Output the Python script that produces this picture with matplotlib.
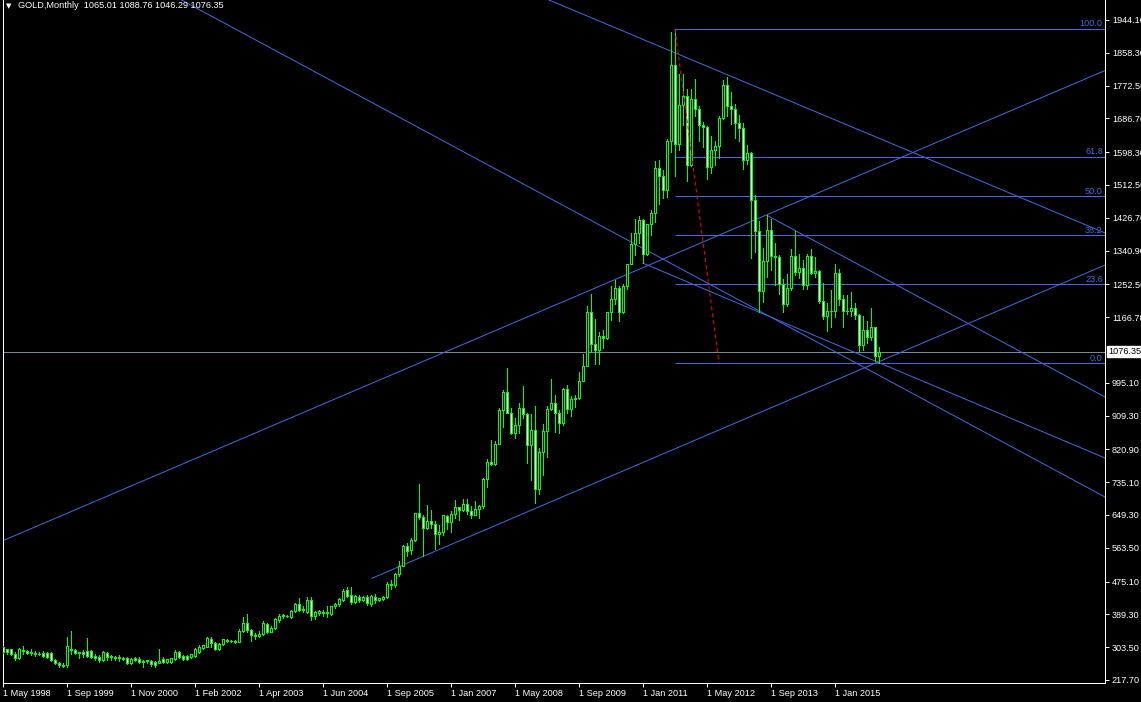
import matplotlib
matplotlib.use("Agg")
import matplotlib.pyplot as plt
from matplotlib.transforms import blended_transform_factory

# monthly GOLD candles, bar 0 = May 1998, last bar = Dec 2015
opens = [304, 298, 298, 287, 276, 293, 293, 291, 288, 287, 289, 289, 289, 270, 263, 258,
         256, 300, 296, 290, 291, 294, 293, 280, 277, 271, 289, 280, 279, 278, 276, 274,
         261, 274, 272, 266, 267, 268, 265, 263, 272, 266, 264, 273, 291, 281, 280, 277,
         280, 291, 301, 305, 326, 314, 298, 312, 322, 320, 319, 318, 347, 368, 348, 335,
         334, 338, 364, 344, 355, 375, 384, 386, 382, 397, 416, 401, 396, 427, 386, 394,
         396, 394, 390, 410, 416, 427, 453, 440, 423, 436, 427, 434, 416, 436, 428, 430,
         434, 470, 466, 495, 517, 569, 557, 584, 654, 643, 614, 633, 627, 599, 604, 647,
         632, 651, 669, 663, 679, 659, 650, 665, 672, 743, 789, 783, 834, 923, 971, 917,
         865, 886, 930, 913, 833, 871, 718, 815, 869, 927, 942, 917, 891, 979, 927, 954,
         955, 1001, 1040, 1181, 1096, 1081, 1118, 1113, 1180, 1213, 1244, 1181, 1248, 1307, 1357, 1386,
         1421, 1332, 1411, 1439, 1556, 1536, 1500, 1628, 1826, 1620, 1722, 1746, 1566, 1737, 1711, 1669,
         1664, 1560, 1604, 1614, 1687, 1773, 1719, 1712, 1675, 1662, 1578, 1595, 1472, 1393, 1234, 1313,
         1395, 1327, 1323, 1253, 1201, 1244, 1326, 1284, 1296, 1250, 1327, 1282, 1287, 1210, 1171, 1183,
         1184, 1283, 1213, 1183, 1184, 1190, 1172, 1095, 1133, 1115, 1142, 1065.01]
highs = [307, 300, 300, 290, 302, 306, 297, 298, 293, 291, 293, 292, 292, 272, 265, 263,
         331, 345, 300, 292, 296, 327, 296, 287, 284, 294, 292, 283, 281, 283, 278, 278,
         275, 277, 277, 270, 271, 271, 268, 300, 277, 272, 275, 295, 294, 283, 282, 286,
         302, 308, 310, 331, 331, 318, 314, 326, 324, 322, 323, 352, 383, 390, 352, 340,
         345, 372, 368, 358, 380, 390, 390, 388, 400, 420, 431, 410, 434, 434, 398, 402,
         400, 412, 412, 420, 432, 456, 462, 461, 440, 440, 438, 440, 441, 442, 433, 438,
         474, 478, 497, 530, 570, 575, 588, 655, 730, 648, 675, 663, 633, 622, 650, 649,
         660, 689, 671, 692, 692, 672, 685, 675, 745, 795, 845, 842, 930, 976, 1033, 930,
         904, 943, 988, 916, 913, 934, 825, 887, 935, 1006, 964, 923, 981, 989, 960, 963,
         1024, 1071, 1195, 1227, 1161, 1127, 1134, 1180, 1249, 1265, 1247, 1254, 1307, 1388, 1424, 1432,
         1424, 1411, 1447, 1576, 1577, 1552, 1632, 1913, 1921, 1803, 1803, 1764, 1764, 1791, 1718, 1676,
         1666, 1640, 1628, 1692, 1787, 1796, 1755, 1724, 1695, 1675, 1617, 1598, 1487, 1418, 1347, 1433,
         1424, 1362, 1330, 1267, 1280, 1345, 1392, 1331, 1315, 1332, 1345, 1324, 1290, 1256, 1205, 1239,
         1307, 1294, 1224, 1224, 1232, 1205, 1175, 1170, 1157, 1191, 1142, 1088.76]
lows = [288, 287, 283, 270, 273, 286, 285, 282, 280, 282, 278, 276, 267, 259, 253, 251,
        252, 287, 287, 274, 279, 279, 274, 270, 266, 268, 271, 270, 271, 268, 271, 259,
        259, 268, 263, 253, 262, 254, 252, 261, 263, 262, 262, 270, 276, 270, 271, 275,
        277, 289, 298, 303, 305, 296, 296, 310, 317, 316, 314, 316, 344, 344, 320, 325,
        330, 336, 341, 342, 351, 370, 381, 382, 380, 395, 398, 395, 393, 375, 376, 388,
        386, 383, 387, 406, 412, 424, 434, 417, 420, 423, 424, 414, 412, 418, 425, 427,
        431, 456, 460, 490, 516, 541, 548, 580, 640, 542, 612, 614, 560, 573, 597, 612,
        605, 641, 635, 661, 653, 642, 648, 642, 668, 723, 780, 780, 834, 879, 915, 860,
        850, 864, 903, 786, 740, 681, 705, 753, 802, 924, 866, 865, 885, 917, 908, 931,
        954, 1001, 1040, 1075, 1045, 1045, 1087, 1110, 1160, 1201, 1157, 1177, 1241, 1305, 1330, 1360,
        1308, 1329, 1381, 1417, 1462, 1478, 1480, 1600, 1535, 1605, 1669, 1523, 1563, 1692, 1627, 1613,
        1527, 1545, 1564, 1584, 1686, 1692, 1672, 1635, 1627, 1555, 1567, 1321, 1338, 1180, 1207, 1272,
        1291, 1251, 1227, 1181, 1197, 1238, 1277, 1268, 1240, 1240, 1280, 1272, 1204, 1161, 1131, 1142,
        1168, 1198, 1142, 1175, 1170, 1162, 1077, 1080, 1099, 1107, 1052, 1046.29]
closes = [291, 291, 285, 274, 298, 295, 289, 288, 286, 286, 280, 279, 270, 261, 256, 255,
          307, 296, 289, 288, 287, 281, 279, 274, 270, 291, 277, 277, 275, 275, 272, 261,
          272, 269, 264, 268, 270, 259, 257, 268, 264, 272, 274, 292, 279, 273, 272, 285,
          298, 305, 309, 327, 314, 299, 312, 325, 320, 320, 318, 346, 368, 348, 335, 334,
          339, 366, 344, 355, 376, 385, 387, 385, 399, 416, 401, 403, 427, 385, 396, 399,
          392, 396, 410, 417, 429, 451, 438, 423, 437, 427, 436, 418, 437, 427, 431, 434,
          469, 465, 495, 516, 568, 556, 584, 654, 645, 614, 633, 627, 599, 605, 649, 632,
          651, 669, 663, 679, 659, 650, 665, 672, 743, 789, 783, 834, 923, 971, 917, 865,
          886, 930, 913, 833, 871, 718, 815, 869, 927, 942, 917, 891, 979, 927, 954, 955,
          1001, 1040, 1181, 1096, 1081, 1118, 1113, 1180, 1213, 1244, 1181, 1248, 1307, 1357, 1386, 1421,
          1332, 1411, 1439, 1556, 1536, 1500, 1628, 1826, 1620, 1722, 1746, 1566, 1737, 1711, 1669, 1664,
          1560, 1604, 1614, 1687, 1773, 1719, 1712, 1675, 1662, 1578, 1595, 1472, 1393, 1234, 1313, 1395,
          1327, 1323, 1253, 1201, 1244, 1326, 1284, 1296, 1250, 1327, 1282, 1287, 1210, 1171, 1183, 1184,
          1283, 1213, 1183, 1184, 1190, 1172, 1095, 1133, 1115, 1142, 1065, 1076.35]

date_labels = ["1 May 1998", "1 Sep 1999", "1 Nov 2000", "1 Feb 2002", "1 Apr 2003",
               "1 Jun 2004", "1 Sep 2005", "1 Jan 2007", "1 May 2008", "1 Sep 2009",
               "1 Jan 2011", "1 May 2012", "1 Sep 2013", "1 Jan 2015"]
price_ticks = [1944.10, 1858.30, 1772.50, 1686.70, 1598.30, 1512.50, 1426.70, 1340.90,
               1252.50, 1166.70, 995.10, 909.30, 820.90, 735.10, 649.30, 563.50,
               475.10, 389.30, 303.50, 217.70]
last_price = 1076.35

# fibonacci retracement (bar, price) anchors
fib_from = (168, 1920.94)
fib_to = (179, 1046.29)
fib_levels = [0.0, 23.6, 38.2, 50.0, 61.8, 100.0]

# trendlines: two (bar, price) anchors each, and whether it is a ray from the first anchor
trendlines = [
    ((157.5, 1360.8), (275.5, 696.4), False),
    ((136.5, 1996.4), (275.5, 1387.0), False),
    ((160.0, 1308.0), (275.5, 798.4), True),
    ((191.0, 1433.0), (275.5, 958.0), True),
    ((0.0, 582.3), (174.25, 1360.0), False),
    ((92.2, 483.7), (275.5, 1303.0), True),
]

lime = "#00ff00"
blue = "#4169e1"
px = 0.72  # one pixel in points at 100 dpi

plt.rcParams["font.family"] = ["Liberation Sans", "DejaVu Sans"]

fig = plt.figure(figsize=(11.41, 7.02), dpi=100, facecolor="black")
ax = fig.add_axes([2.5 / 1141, 19 / 702, 1102.5 / 1141, 683 / 702], facecolor="black")
x_lo, x_hi = -0.125, 275.5
ax.set_xlim(x_lo, x_hi)
ax.set_ylim(209.85, 1996.4)

# candles
bars = list(range(len(closes)))
ax.vlines(bars, lows, highs, color=lime, lw=px, antialiased=False, zorder=3)
body_h = [abs(c - o) for o, c in zip(opens, closes)]
body_b = [min(o, c) for o, c in zip(opens, closes)]
fills = ["black" if c >= o else "white" for o, c in zip(opens, closes)]
ax.bar(bars, body_h, bottom=body_b, width=0.5, color=fills, edgecolor=lime,
       linewidth=px, antialiased=False, zorder=4)

# trendlines
for (x0, y0), (x1, y1), is_ray in trendlines:
    slope = (y1 - y0) / (x1 - x0)
    start = x0 if is_ray else x_lo - 50
    ax.plot([start, x_hi], [y0 + slope * (start - x0), y0 + slope * (x_hi - x0)],
            color=blue, lw=px, zorder=2)

# fibonacci
blend = blended_transform_factory(ax.transAxes, ax.transData)
span = fib_from[1] - fib_to[1]
for lvl in fib_levels:
    price = fib_to[1] + span * lvl / 100
    ax.hlines(price, fib_from[0], x_hi, color=blue, lw=px, zorder=2)
    ax.annotate(f"{lvl:.1f}", xy=(0.998, price), xycoords=blend, xytext=(0, 0.3),
                textcoords="offset points", ha="right", va="bottom", color=blue, fontsize=6.6)
ax.plot([fib_from[0], fib_to[0]], [fib_from[1], fib_to[1]], color="red", lw=px,
        ls=(0, (4, 3)), zorder=5)

# last price line and label
ax.axhline(last_price, color="#778899", lw=px, zorder=1)
ax.text(1.003, last_price, f"{last_price:.2f}", transform=blend, ha="left", va="center",
        fontsize=6.6, color="black", clip_on=False,
        bbox=dict(boxstyle="square,pad=0.12", fc="white", ec="white"))

# axes styling
for side in ["left", "bottom", "right"]:
    ax.spines[side].set_color("white")
    ax.spines[side].set_linewidth(px)
ax.spines["top"].set_visible(False)

ax.set_xticks(range(0, 16 * len(date_labels), 16))
ax.set_xticklabels(date_labels)
for lab in ax.get_xticklabels():
    lab.set_ha("left")
ax.tick_params(axis="x", colors="white", length=3, width=px, pad=1.5, labelsize=6.6)

ax.yaxis.tick_right()
ax.set_yticks(price_ticks)
ax.set_yticklabels([f"{v:.2f}" for v in price_ticks])
ax.tick_params(axis="y", colors="white", length=3, width=px, pad=2, labelsize=6.6)

fig.text(6 / 1141, 1 - 6 / 702, "\u25bc", color="white", fontsize=5,
         family="DejaVu Sans", va="center")
fig.text(18 / 1141, 1 - 6 / 702, "GOLD,Monthly  1065.01 1088.76 1046.29 1076.35",
         color="white", fontsize=6.6, va="center")

fig.savefig("out.png", dpi=100, facecolor="black")
